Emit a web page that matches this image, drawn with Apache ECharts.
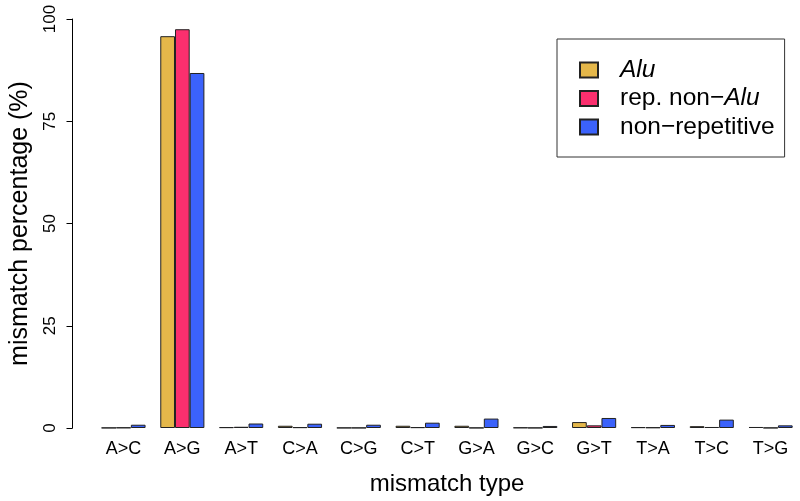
<!DOCTYPE html>
<html>
<head>
<meta charset="utf-8">
<script src="https://cdn.jsdelivr.net/npm/echarts@6/dist/echarts.min.js"></script>
<style>
  html, body { margin: 0; padding: 0; background: #fff; }
  #chart { width: 800px; height: 501px; }
</style>
</head>
<body>
<div id="chart"></div>
<script>
// mismatch types on the x axis
var mismatchTypes = ["A>C", "A>G", "A>T", "C>A", "C>G", "C>T", "G>A", "G>C", "G>T", "T>A", "T>C", "T>G"];
// percentage of mismatches per region class
var aluValues = [0.05, 95.8, 0.2, 0.55, 0.05, 0.55, 0.55, 0.1, 1.45, 0.2, 0.45, 0.25];
var repNonAluValues = [0.1, 97.5, 0.3, 0.2, 0.05, 0.2, 0.05, 0.05, 0.65, 0.15, 0.25, 0.05];
var nonRepValues = [0.8, 86.8, 1.1, 1.05, 0.8, 1.3, 2.3, 0.5, 2.45, 0.75, 2.05, 0.65];
var yTicks = [0, 25, 50, 75, 100];

var font = "Liberation Sans";
var barBorder = { borderColor: "#222", borderWidth: 1 };

var chart = echarts.init(document.getElementById("chart"));
var option = {
  backgroundColor: "#fff",
  textStyle: { fontFamily: font },
  animation: false,
  grid: { left: 93.6, top: 19, width: 709, bottom: 73 },
  legend: {
    orient: "vertical",
    left: 557,
    top: 39,
    icon: "rect",
    itemWidth: 18,
    itemHeight: 15,
    itemGap: 0.5,
    borderColor: "#333",
    borderWidth: 1,
    padding: [17, 10, 16, 22],
    textStyle: {
      fontFamily: font,
      fontSize: 24.5,
      lineHeight: 28,
      color: "#000",
      padding: [0, 0, 0, 17],
      rich: { i: { fontStyle: "italic", fontSize: 24.5, lineHeight: 28, fontFamily: font, color: "#000" } }
    },
    formatter: function (name) {
      if (name === "Alu") return "{i|Alu}";
      if (name === "rep. non\u2212Alu") return "rep. non\u2212{i|Alu}";
      return name;
    },
    data: ["Alu", "rep. non\u2212Alu", "non\u2212repetitive"]
  },
  xAxis: {
    type: "category",
    data: mismatchTypes,
    name: "mismatch type",
    nameLocation: "middle",
    nameGap: 44,
    nameTextStyle: { fontSize: 24, color: "#000", fontFamily: font },
    axisLine: { show: false },
    axisTick: { show: false },
    axisLabel: { fontSize: 18, color: "#000", margin: 12.5, fontFamily: font }
  },
  yAxis: {
    type: "value",
    min: yTicks[0],
    max: yTicks[yTicks.length - 1],
    interval: 25,
    offset: 21.6,
    name: "mismatch percentage (%)",
    nameLocation: "middle",
    nameGap: 39.5,
    nameTextStyle: { fontSize: 25, color: "#000", fontFamily: font },
    splitLine: { show: false },
    axisLine: { show: true, lineStyle: { color: "#000", width: 1 } },
    axisTick: { show: true, length: 6, lineStyle: { color: "#000" } },
    axisLabel: { rotate: 90, fontSize: 17, color: "#000", margin: 13.5, fontFamily: font }
  },
  series: [
    {
      name: "Alu", type: "bar", data: aluValues,
      barGap: "0%", barCategoryGap: "25%",
      itemStyle: Object.assign({ color: "#E4B74A" }, barBorder)
    },
    {
      name: "rep. non\u2212Alu", type: "bar", data: repNonAluValues,
      barGap: "0%", barCategoryGap: "25%",
      itemStyle: Object.assign({ color: "#FB2F6E" }, barBorder)
    },
    {
      name: "non\u2212repetitive", type: "bar", data: nonRepValues,
      barGap: "0%", barCategoryGap: "25%",
      itemStyle: Object.assign({ color: "#3B62FB" }, barBorder)
    }
  ]
};
chart.setOption(option);
</script>
</body>
</html>
